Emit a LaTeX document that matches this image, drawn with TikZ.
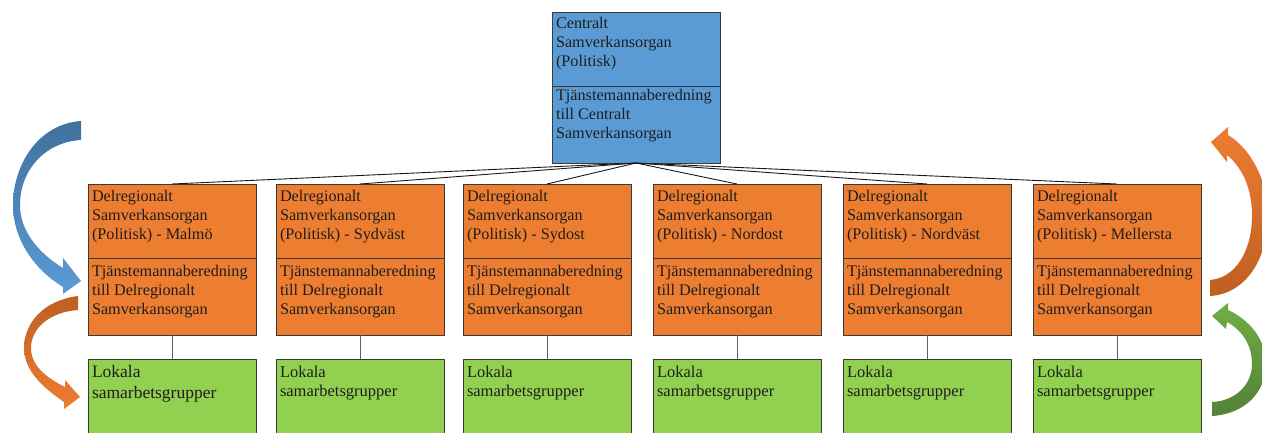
\documentclass[tikz,border=0pt]{standalone}
\usepackage{fontspec}
\setmainfont{Liberation Serif}
\definecolor{boxblue}{HTML}{5B9BD5}
\definecolor{boxorange}{HTML}{ED7D31}
\definecolor{boxgreen}{HTML}{92D050}
\definecolor{edgec}{HTML}{3A3A3A}
\definecolor{txtc}{HTML}{1E1E1E}
\definecolor{bluedark}{HTML}{41719C}
\definecolor{orangedark}{HTML}{BF5F22}
\definecolor{greenlight}{HTML}{70AD47}
\definecolor{greendark}{HTML}{548235}
\begin{document}
\begin{tikzpicture}[x=1pt,y=-1pt,
  box/.style={draw=edgec, line width=1pt, minimum width=168pt, inner sep=0pt, outer sep=0pt},
  bbox/.style={box, fill=boxblue},
  obox/.style={box, fill=boxorange},
  gbox/.style={box, fill=boxgreen},
  lbl/.style={anchor=north west, inner sep=0pt, outer sep=0pt, align=left, text=txtc, font=\fontsize{16.2}{19}\selectfont},
  fan/.style={draw=black!90, line width=0.9pt},
  link/.style={draw=edgec!80, line width=0.9pt}]
\useasboundingbox (0,0) rectangle (1262,432);
\clip (0,0) rectangle (1262,432);

% central body
\node[bbox, minimum height=74pt] (c1) at (636,49) {};
\node[bbox, minimum height=77pt] (c2) at (636,124.5) {};
\node[lbl] (c1txt) at (556,17) {Centralt\\Samverkansorgan\\(Politisk)};
\node[lbl] (c2txt) at (556,89.5) {Tjänstemannaberedning\\till Centralt\\Samverkansorgan};

\foreach \i/\L/\reg in {1/88/Malmö, 2/276/Sydväst, 3/463/Sydost, 4/653/Nordost, 5/843/Nordväst, 6/1033/Mellersta}{
  \pgfmathsetmacro\cx{\L+84}
  \pgfmathsetmacro\tx{\L+4}
  \node[obox, minimum height=74pt] (d\i) at (\cx,221) {};
  \node[obox, minimum height=77pt] (t\i) at (\cx,296.5) {};
  \node[gbox, minimum height=90pt] (g\i) at (\cx,404) {};
  \draw[fan] (c2.south) -- (d\i.north);
  \draw[link] (t\i.south) -- (g\i.north);
  \node[lbl] (d\i txt) at (\tx,190) {Delregionalt\\Samverkansorgan\\(Politisk) - \reg};
  \node[lbl] (t\i txt) at (\tx,265) {Tjänstemannaberedning\\till Delregionalt\\Samverkansorgan};
  \ifnum\i=1
    \node[lbl, font=\fontsize{17.5}{21}\selectfont] (g\i txt) at (\tx,365) {Lokala\\samarbetsgrupper};
  \else
    \node[lbl, font=\fontsize{16.5}{19}\selectfont] (g\i txt) at (\tx,366) {Lokala\\samarbetsgrupper};
  \fi
}

% left blue curved arrow
\path[top color=bluedark, bottom color=boxblue]
  (81,121) .. controls (38,124) and (13,165) .. (13,205)
  .. controls (13,240) and (35,270) .. (63,287)
  -- (63,294) -- (81,281) -- (63,258) -- (63,268)
  .. controls (37,252) and (20,230) .. (20,205)
  .. controls (20,170) and (45,142) .. (81,140) -- cycle;

% left orange curved arrow
\path[top color=orangedark, bottom color=boxorange]
  (78,296) .. controls (45,300) and (24,322) .. (24,348)
  .. controls (24,370) and (42,387) .. (64,402)
  -- (64,409) -- (80,397) -- (65,380) -- (65,387)
  .. controls (45,377) and (31,365) .. (31,348)
  .. controls (31,328) and (50,312) .. (78,310) -- cycle;

% right orange curved arrow
\path[top color=boxorange, bottom color=orangedark]
  (1210,280) -- (1210,296)
  .. controls (1245,294) and (1268,260) .. (1268,215)
  .. controls (1268,180) and (1250,148) .. (1228,135)
  -- (1228,127) -- (1211,142) -- (1227,162) -- (1227,155)
  .. controls (1243,168) and (1252,190) .. (1252,215)
  .. controls (1252,252) and (1235,278) .. (1210,280) -- cycle;

% right green curved arrow
\path[top color=greenlight, bottom color=greendark]
  (1212,402) -- (1212,416)
  .. controls (1245,414) and (1266,392) .. (1266,364)
  .. controls (1266,340) and (1250,320) .. (1228,310)
  -- (1228,303) -- (1212,316) -- (1226,329) -- (1227,322)
  .. controls (1242,330) and (1252,345) .. (1252,364)
  .. controls (1252,385) and (1235,401) .. (1212,402) -- cycle;
\end{tikzpicture}
\end{document}
